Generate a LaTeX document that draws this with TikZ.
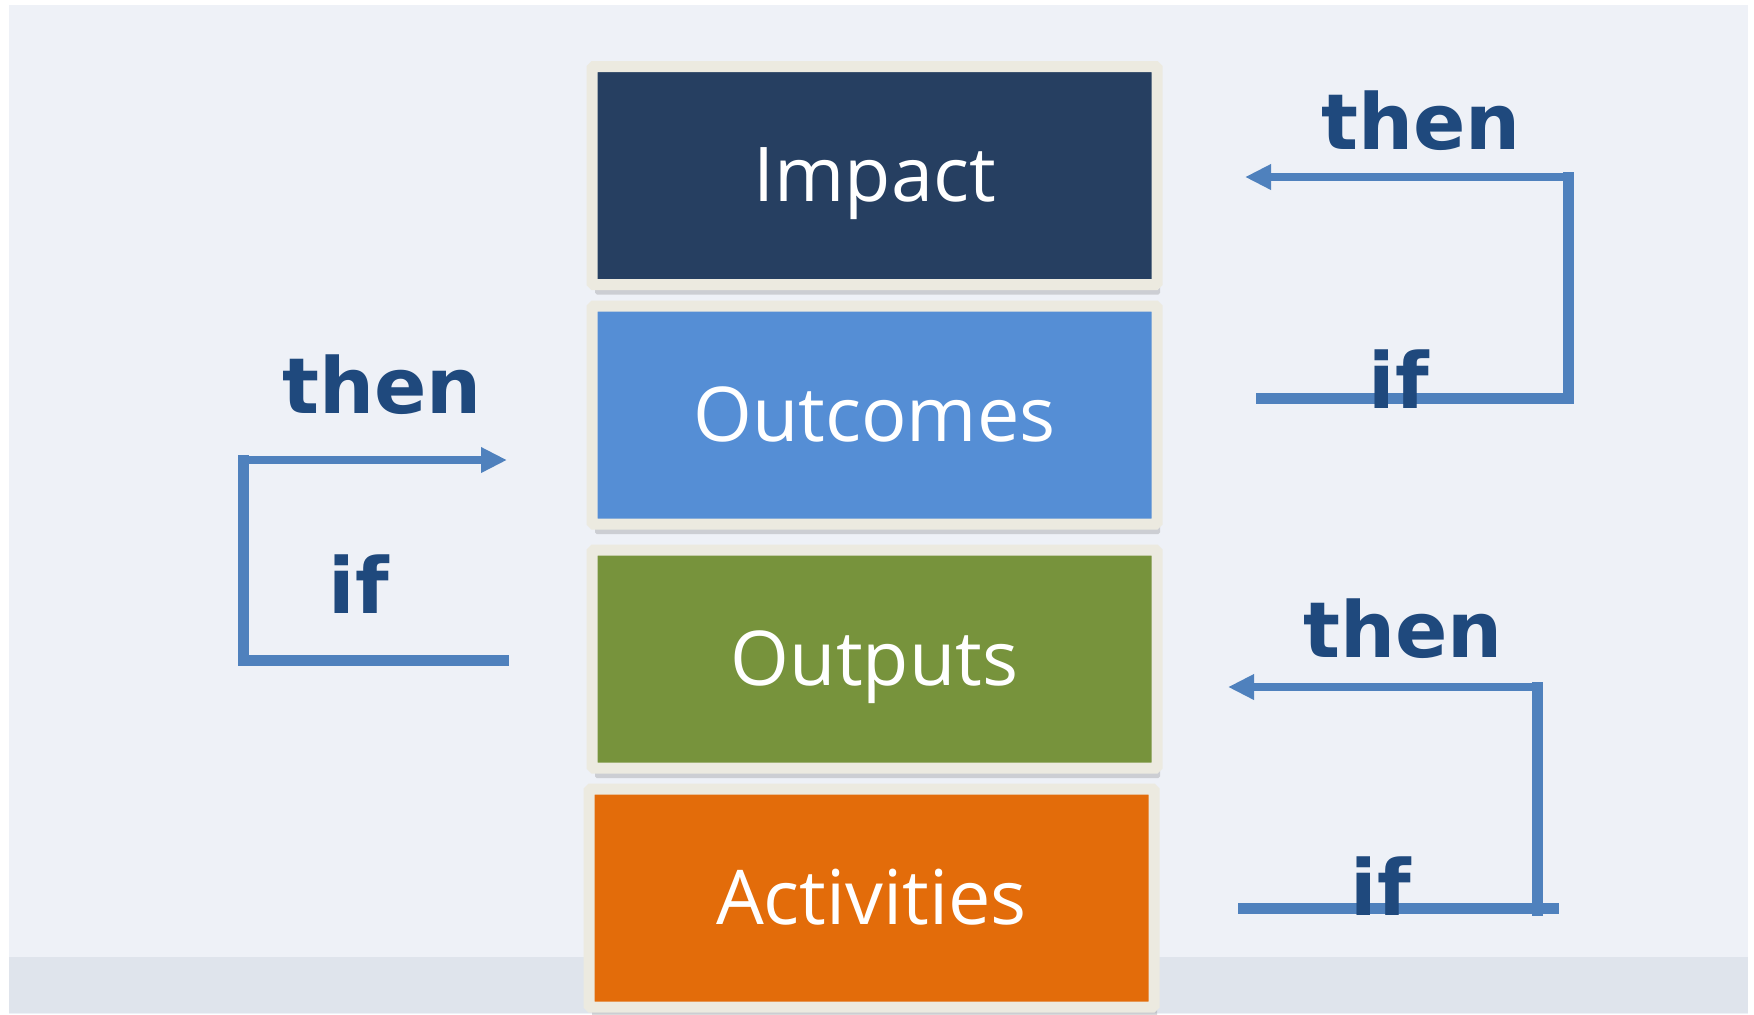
\documentclass[tikz,border=0pt]{standalone}
\usepackage{fontspec}
\setmainfont{Open Sans}
\newfontfamily\loopfont{DejaVu Sans}
\usetikzlibrary{positioning,arrows.meta,shadows}

\definecolor{bgcol}{HTML}{EEF1F7}
\definecolor{bandcol}{HTML}{DFE4EC}
\definecolor{framecol}{HTML}{ECEAE0}
\definecolor{impcol}{HTML}{263F61}
\definecolor{outccol}{HTML}{558ED5}
\definecolor{outpcol}{HTML}{77933C}
\definecolor{actcol}{HTML}{E36C0A}
\definecolor{wordcol}{HTML}{1F497D}
\definecolor{loopcol}{HTML}{4F81BD}

\begin{document}
\begin{tikzpicture}
	\begin{scope}[x=0.1mm, y=-0.1mm]
		\useasboundingbox (0,0) rectangle (1754,1014);
		\fill[bgcol] (9,5) rectangle (1748,1014);
		\fill[bandcol] (9,957) rectangle (1748,1013);

		\tikzstyle{box}=[draw=framecol, line width=1.1mm, rounded corners=0.5pt, minimum width=5.65cm, minimum height=2.18cm, text=white, font=\fontsize{21.5}{25}\selectfont, text height=15pt, text depth=0pt, drop shadow={shadow xshift=0.3mm, shadow yshift=-1.0mm, opacity=0.3}]
		\tikzstyle{word}=[text=wordcol, font=\loopfont\bfseries\fontsize{22}{26}\selectfont, inner sep=0pt, anchor=base]
		\tikzstyle{ifline}=[loopcol, line width=1.1mm, line cap=rect]
		\tikzstyle{thenline}=[loopcol, line width=0.75mm, -{Triangle[length=2.6mm, width=2.4mm]}]

		\node[box, fill=impcol]  (imp)  at (874.5, 175.5) {Impact};
		\node[box, fill=outccol] (outc) at (874.5, 415)   {Outcomes};
		\node[box, fill=outpcol] (outp) at (874.5, 659)   {Outputs};
		\node[box, fill=actcol]  (act)  at (871.5, 898)   {Activities};

		\coordinate (ifL)    at (503, 660);
		\coordinate (cnrL)   at (243, 460);
		\coordinate (thenL)  at (507, 460);

		\coordinate (ifR1)   at (1261, 398);
		\coordinate (cnrR1)  at (1568, 177);
		\coordinate (thenR1) at (1245, 177);

		\coordinate (ifR2)   at (1243, 908);
		\coordinate (endR2)  at (1553, 908);
		\coordinate (footR2) at (1537, 910);
		\coordinate (cnrR2)  at (1537, 687);
		\coordinate (thenR2) at (1228, 687);

		\draw [ifline] (ifL) -| (cnrL);
		\draw [thenline] (cnrL) to (thenL);

		\draw [ifline] (ifR1) -| (cnrR1);
		\draw [thenline] (cnrR1) to (thenR1);

		\draw [ifline] (ifR2) to (endR2);
		\draw [ifline] (footR2) to (cnrR2);
		\draw [thenline] (cnrR2) to (thenR2);

		\node[word] (thenw1) at (382, 413)  {then};
		\node[word] (ifw1)   at (359, 613)  {if};
		\node[word] (thenw2) at (1421, 149) {then};
		\node[word] (ifw2)   at (1399, 408) {if};
		\node[word] (thenw3) at (1403, 657) {then};
		\node[word] (ifw3)   at (1381, 915) {if};
	\end{scope}
\end{tikzpicture}
\end{document}
